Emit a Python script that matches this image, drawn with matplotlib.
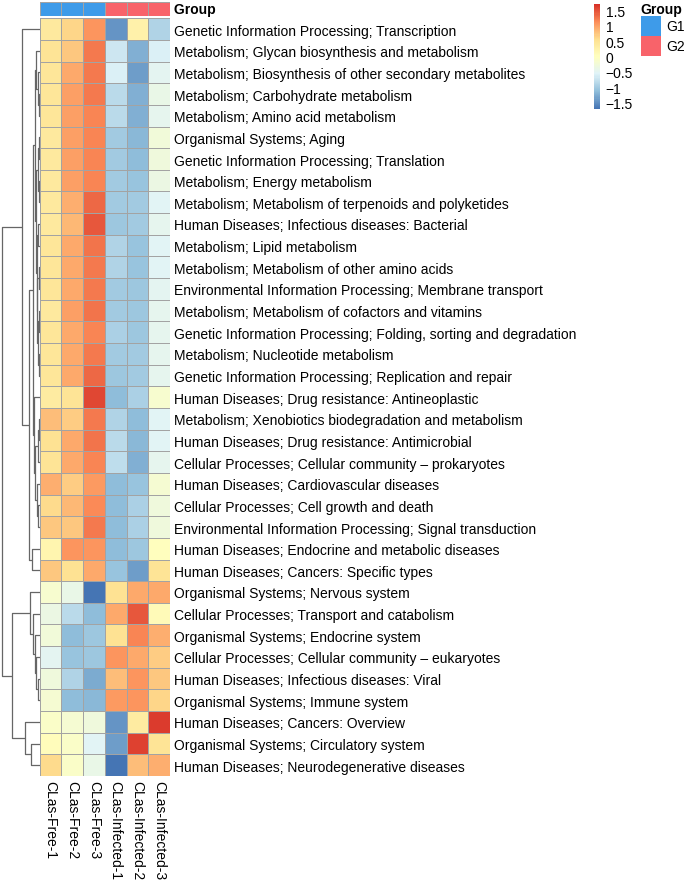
import numpy as np
import matplotlib
matplotlib.use("Agg")
import matplotlib.pyplot as plt
from matplotlib.colors import LinearSegmentedColormap, ListedColormap, Normalize
from matplotlib.patches import Rectangle

plt.rcParams['font.family'] = ['Liberation Sans', 'DejaVu Sans']

# pathway labels (row order as in the clustered heatmap)
pathways = [
    "Genetic Information Processing; Transcription",
    "Metabolism; Glycan biosynthesis and metabolism",
    "Metabolism; Biosynthesis of other secondary metabolites",
    "Metabolism; Carbohydrate metabolism",
    "Metabolism; Amino acid metabolism",
    "Organismal Systems; Aging",
    "Genetic Information Processing; Translation",
    "Metabolism; Energy metabolism",
    "Metabolism; Metabolism of terpenoids and polyketides",
    "Human Diseases; Infectious diseases: Bacterial",
    "Metabolism; Lipid metabolism",
    "Metabolism; Metabolism of other amino acids",
    "Environmental Information Processing; Membrane transport",
    "Metabolism; Metabolism of cofactors and vitamins",
    "Genetic Information Processing; Folding, sorting and degradation",
    "Metabolism; Nucleotide metabolism",
    "Genetic Information Processing; Replication and repair",
    "Human Diseases; Drug resistance: Antineoplastic",
    "Metabolism; Xenobiotics biodegradation and metabolism",
    "Human Diseases; Drug resistance: Antimicrobial",
    "Cellular Processes; Cellular community \u2013 prokaryotes",
    "Human Diseases; Cardiovascular diseases",
    "Cellular Processes; Cell growth and death",
    "Environmental Information Processing; Signal transduction",
    "Human Diseases; Endocrine and metabolic diseases",
    "Human Diseases; Cancers: Specific types",
    "Organismal Systems; Nervous system",
    "Cellular Processes; Transport and catabolism",
    "Organismal Systems; Endocrine system",
    "Cellular Processes; Cellular community \u2013 eukaryotes",
    "Human Diseases; Infectious diseases: Viral",
    "Organismal Systems; Immune system",
    "Human Diseases; Cancers: Overview",
    "Organismal Systems; Circulatory system",
    "Human Diseases; Neurodegenerative diseases",
]

samples = ["CLas-Free-1", "CLas-Free-2", "CLas-Free-3",
           "CLas-Infected-1", "CLas-Infected-2", "CLas-Infected-3"]
groups = ["G1", "G1", "G1", "G2", "G2", "G2"]
group_names = ["G1", "G2"]
group_colors = ["#3E9BE9", "#F8636A"]

# row-scaled abundance (z-score)
zscores = [
    [0.40, 0.65, 1.10, -1.45, 0.25, -0.90],
    [0.50, 0.75, 1.25, -0.70, -1.25, -0.60],
    [0.45, 0.95, 1.25, -0.60, -1.40, -0.50],
    [0.45, 1.00, 1.25, -0.85, -1.25, -0.40],
    [0.45, 1.00, 1.20, -0.85, -1.25, -0.45],
    [0.40, 1.00, 1.20, -1.00, -1.20, -0.25],
    [0.40, 1.00, 1.20, -1.00, -1.15, -0.30],
    [0.40, 1.00, 1.20, -1.00, -1.10, -0.35],
    [0.40, 0.90, 1.35, -1.00, -1.00, -0.55],
    [0.40, 0.85, 1.45, -1.05, -1.00, -0.45],
    [0.45, 0.95, 1.30, -0.90, -1.10, -0.55],
    [0.45, 0.95, 1.25, -0.90, -1.10, -0.55],
    [0.45, 0.95, 1.25, -1.00, -1.05, -0.50],
    [0.40, 1.00, 1.30, -1.00, -1.05, -0.45],
    [0.45, 0.95, 1.20, -0.95, -1.05, -0.45],
    [0.45, 0.95, 1.25, -1.00, -1.00, -0.45],
    [0.45, 0.95, 1.35, -1.05, -1.00, -0.45],
    [0.35, 0.50, 1.55, -1.15, -0.95, -0.15],
    [0.80, 0.70, 1.25, -0.90, -1.15, -0.55],
    [0.55, 0.95, 1.30, -0.85, -1.20, -0.55],
    [0.50, 0.95, 1.20, -0.80, -1.25, -0.45],
    [0.90, 0.70, 1.05, -1.15, -1.10, -0.20],
    [0.60, 0.85, 1.15, -1.15, -0.95, -0.30],
    [0.75, 0.75, 1.25, -1.15, -0.95, -0.30],
    [0.20, 1.10, 1.10, -1.15, -1.05, 0.00],
    [0.75, 0.55, 0.95, -1.10, -1.40, 0.50],
    [-0.15, -0.40, -1.70, 0.55, 0.95, 0.95],
    [-0.35, -0.85, -1.15, 0.95, 1.45, 0.10],
    [-0.25, -1.15, -1.05, 0.55, 1.20, 0.90],
    [-0.50, -1.10, -1.05, 1.10, 0.95, 0.70],
    [-0.30, -0.90, -1.30, 0.80, 1.10, 0.75],
    [-0.20, -1.15, -1.20, 1.05, 1.10, 0.65],
    [-0.10, -0.20, -0.30, -1.45, 0.35, 1.65],
    [0.05, -0.10, -0.55, -1.40, 1.60, 0.50],
    [0.60, -0.10, -0.40, -1.70, 0.80, 0.90],
]

# row dendrogram: [left, right, height], leaves are row indices
top_a1 = [1, [2, [3, 4, 0.8], 1.8], 3.3]
top_a2 = [[[5, 6, 0.9], [7, 8, 1.0], 2.0],
          [[9, 10, 1.1], [[11, 12, 0.7], [[13, 14, 0.6], [15, 16, 0.8], 1.4], 2.2], 3.0], 4.0]
top_c = [[[18, 19, 1.0], 20, 2.0], [21, [22, 23, 1.2], 2.4], 4.3]
top_t3 = [[top_a1, top_a2, 5.0], [17, top_c, 6.0], 7.0]
top_cl = [0, [top_t3, [24, 25, 7.5], 10.3], 18.0]
bot_b1 = [26, [27, [28, [29, [30, 31, 1.5], 3.3], 4.6], 7.0], 9.6]
bot_b2 = [32, [33, 34, 9.0], 14.3]
row_tree = [top_cl, [bot_b1, bot_b2, 27.3], 37.3]

legend_ticks = [-1.5, -1, -0.5, 0, 0.5, 1, 1.5]
vmin, vmax = -1.72, 1.72

W, H = 685, 887
fig = plt.figure(figsize=(W / 100, H / 100), dpi=100)

def px_axes(x0, y0, x1, y1):
    return fig.add_axes([x0 / W, 1 - y1 / H, (x1 - x0) / W, (y1 - y0) / H])

cmap = LinearSegmentedColormap.from_list(
    "rdylbu", ["#4575B4", "#91BFDB", "#E0F3F8", "#FFFFBF", "#FEE090", "#FC8D59", "#D73027"], N=100)
norm = Normalize(vmin=vmin, vmax=vmax)
fs = 10
grid_col = "#A3A3A3"

Z = np.array(zscores)
nrow, ncol = Z.shape

# heatmap
hx0, hx1, hy0, hy1 = 39.5, 170.0, 19.3, 777.0
ax = px_axes(hx0, hy0, hx1, hy1)
ax.pcolormesh(np.arange(ncol + 1), np.arange(nrow + 1), Z, cmap=cmap, norm=norm,
              edgecolors=grid_col, linewidth=0.6)
ax.set_xlim(0, ncol)
ax.set_ylim(nrow, 0)
for s in ax.spines.values():
    s.set_visible(False)
ax.yaxis.tick_right()
ax.set_yticks(np.arange(nrow) + 0.5)
ax.set_yticklabels(pathways, fontsize=fs)
ax.set_xticks(np.arange(ncol) + 0.5)
ax.set_xticklabels(samples, fontsize=fs, rotation=270)
ax.tick_params(length=0, pad=3)

# annotation bar
ax_a = px_axes(hx0, 2.7, hx1, 17.3)
gidx = np.array([[group_names.index(g) for g in groups]])
ax_a.pcolormesh(np.arange(ncol + 1), [0, 1], gidx, cmap=ListedColormap(group_colors),
                vmin=-0.5, vmax=1.5, edgecolors=grid_col, linewidth=0.6)
ax_a.set_xlim(0, ncol)
ax_a.set_ylim(1, 0)
ax_a.axis("off")
ax_a.text(1.0, 0.5, " Group", transform=ax_a.transAxes, fontsize=fs,
          fontweight="bold", va="center", ha="left")

# dendrogram
ax_d = px_axes(0, hy0, hx0, hy1)
ax_d.set_xlim(hx0, 0)
ax_d.set_ylim(nrow, 0)
ax_d.axis("off")

def draw(node):
    if isinstance(node, int):
        return node + 0.5, 0.0
    left, right, h = node
    yl, hl = draw(left)
    yr, hr = draw(right)
    ax_d.plot([hl, h, h, hr], [yl, yl, yr, yr], color="#666666", lw=0.9,
              solid_capstyle="butt")
    return (yl + yr) / 2, h

draw(row_tree)

# colour legend
cax = px_axes(594, 5, 600, 110)
cb = fig.colorbar(plt.cm.ScalarMappable(norm=norm, cmap=cmap), cax=cax)
cb.outline.set_visible(False)
cb.set_ticks(legend_ticks)
cb.set_ticklabels([f"{t:g}".replace("-", "\u2212") for t in legend_ticks])
cax.tick_params(length=0, pad=4, labelsize=fs)

# group legend
ax_l = fig.add_axes([0, 0, 1, 1])
ax_l.set_xlim(0, W)
ax_l.set_ylim(H, 0)
ax_l.axis("off")
ax_l.patch.set_alpha(0)
ax_l.text(640, 10, "Group", fontsize=fs, fontweight="bold", va="center", ha="left")
for i, (name, col) in enumerate(zip(group_names, group_colors)):
    y0 = 17.3 + 20 * i
    ax_l.add_patch(Rectangle((641, y0), 20, 20, facecolor=col, edgecolor="none"))
    ax_l.text(666, y0 + 10, name, fontsize=fs, va="center", ha="left")

fig.savefig("out.png", dpi=100)
